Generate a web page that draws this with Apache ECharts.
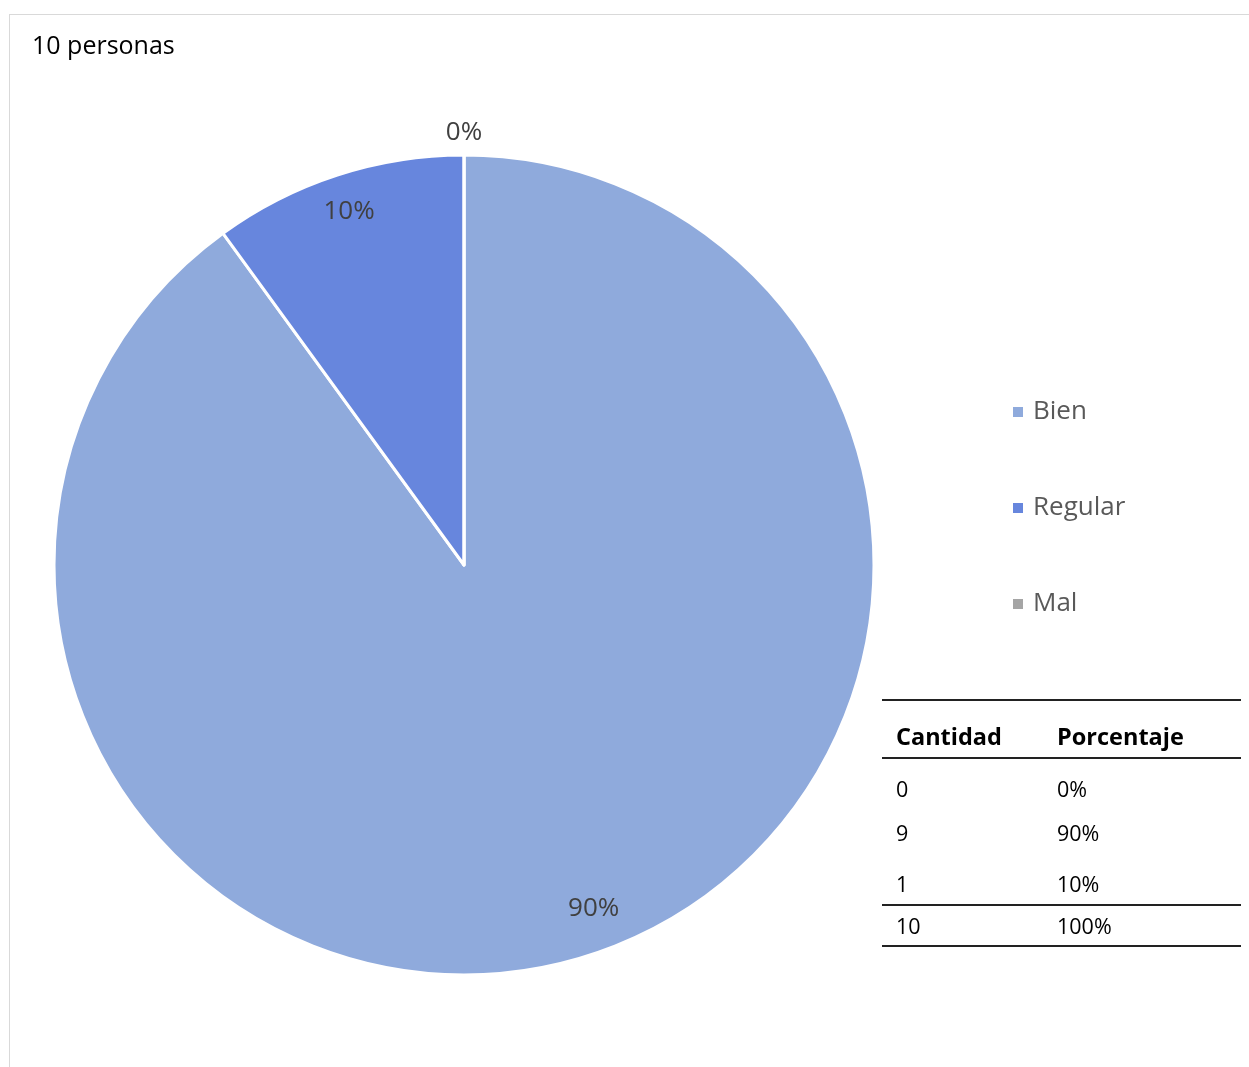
<!DOCTYPE html>
<html><head><meta charset="utf-8">
<script src="https://cdn.jsdelivr.net/npm/echarts@6/dist/echarts.min.js"></script>
<style>
html,body{margin:0;padding:0;background:#fff;}
#frame{position:absolute;left:9px;top:14px;width:1260px;height:1080px;border:1px solid #d9d9d9;box-sizing:border-box;}
#c{position:absolute;left:0;top:0;width:1249px;height:1067px;}
</style></head>
<body>
<div id="frame"></div>
<div id="c"></div>
<script>
const titleText = '10 personas';
const categories = ['Bien', 'Regular', 'Mal'];
const values = [9, 1, 0];
const colors = ['#8FAADC', '#6786DD', '#A5A5A5'];
const tableHeaders = ['Cantidad', 'Porcentaje'];
const tableCantidad = ['0', '9', '1', '10'];
const tablePorcentaje = ['0%', '90%', '10%', '100%'];

const FONT = '"Open Sans"';
const chart = echarts.init(document.getElementById('c'), null, {renderer: 'canvas'});

const data = categories.map((n, i) => ({name: n, value: values[i], itemStyle: {color: colors[i]}}));
const total = values.reduce((a, b) => a + b, 0);
const pct = p => Math.round(p.value / total * 100) + '%';

const center = [464, 565];
const labelStyle = {fontFamily: FONT, fontSize: 26, color: '#404040'};
// label rings (one per slice) and small horizontal nudges to mimic the reference's best-fit placement
const labelRings = [[318, 399], [328, 410], [414, 444]];
const labelPadding = [[0, 0, 0, 36], [0, 0, 0, 0], [0, 0, 0, 0]];

// table graphics
const g = [];
const tx0 = 882, tx1 = 1241, col1 = 896, col2 = 1057;
const lineAt = (y, w) => g.push({type: 'line', shape: {x1: tx0, y1: y, x2: tx1, y2: y}, style: {stroke: '#222', lineWidth: w}});
lineAt(700, 2); lineAt(758, 2); lineAt(905, 2); lineAt(946, 2);
const headY = 736;
g.push({type: 'text', left: col1, top: headY - 10, style: {text: tableHeaders[0], font: 'bold 23.5px ' + FONT, fill: '#000'}});
g.push({type: 'text', left: col2, top: headY - 10, style: {text: tableHeaders[1], font: 'bold 23.5px ' + FONT, fill: '#000'}});
const rowY = [789, 833, 884, 926];
tableCantidad.forEach((t, i) => {
  g.push({type: 'text', left: col1, top: rowY[i] - 9, style: {text: t, font: '21.5px ' + FONT, fill: '#000'}});
  g.push({type: 'text', left: col2, top: rowY[i] - 9, style: {text: tablePorcentaje[i], font: '21.5px ' + FONT, fill: '#000'}});
});

const labelSeries = labelRings.map((ring, k) => ({
  type: 'pie', center: center, radius: ring, startAngle: 90, clockwise: true, silent: true,
  legendHoverLink: false,
  itemStyle: {color: 'rgba(0,0,0,0)', borderWidth: 0},
  label: Object.assign({show: true, position: 'inside', formatter: pct}, labelStyle),
  labelLine: {show: false}, emphasis: {disabled: true},
  data: categories.map((n, i) => ({name: n + ' '.repeat(k + 1), value: values[i], label: {show: i === k, padding: labelPadding[i]}}))
}));

chart.setOption({
  animation: false,
  title: {text: titleText, left: 27, top: 29, textStyle: {fontFamily: FONT, fontSize: 25, fontWeight: 'normal', color: '#000'}},
  legend: {
    orient: 'vertical', left: 1006, top: 394, itemGap: 70, itemWidth: 12, itemHeight: 12, icon: 'rect',
    textStyle: {fontFamily: FONT, fontSize: 26, color: '#595959', lineHeight: 25, padding: [0, 0, 0, 4]},
    data: categories
  },
  graphic: g,
  series: [
    {
      type: 'pie', center: center, radius: [0, 410], startAngle: 90, clockwise: true,
      label: {show: false}, labelLine: {show: false},
      itemStyle: {borderColor: '#fff', borderWidth: 3},
      emphasis: {disabled: true}, data: data
    }
  ].concat(labelSeries)
});
</script>
</body></html>
